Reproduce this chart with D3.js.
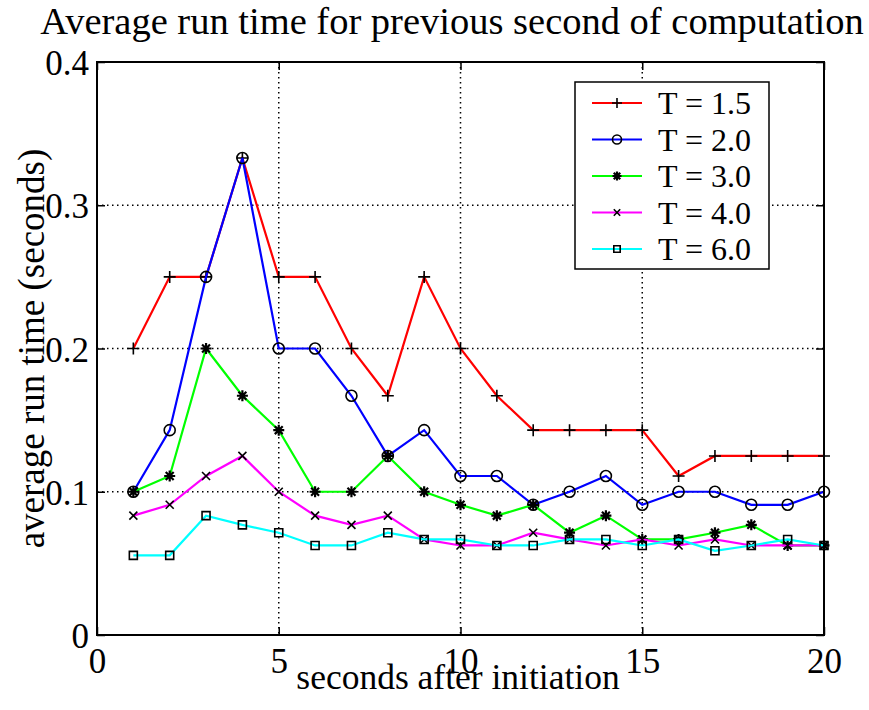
<!DOCTYPE html>
<html>
<head>
<meta charset="utf-8">
<script src="https://cdn.jsdelivr.net/npm/d3@7"></script>
<style>
  body { margin: 0; background: #fff; }
  text { font-family: "Liberation Serif", "DejaVu Serif", serif; fill: #000; }
</style>
</head>
<body>
<script>
// seconds after initiation
let seconds = [1, 2, 3, 4, 5, 6, 7, 8, 9, 10, 11, 12, 13, 14, 15, 16, 17, 18, 19, 20];

let t15 = [0.2, 0.25, 0.25, 0.333, 0.25, 0.25, 0.2, 0.167, 0.25, 0.2, 0.167, 0.143, 0.143, 0.143, 0.143, 0.111, 0.125, 0.125, 0.125, 0.125];
let t20 = [0.1, 0.143, 0.25, 0.333, 0.2, 0.2, 0.167, 0.125, 0.143, 0.111, 0.111, 0.0909, 0.1, 0.111, 0.0909, 0.1, 0.1, 0.0909, 0.0909, 0.1];
let t30 = [0.1, 0.111, 0.2, 0.167, 0.143, 0.1, 0.1, 0.125, 0.1, 0.0909, 0.0833, 0.0909, 0.0714, 0.0833, 0.0667, 0.0667, 0.0714, 0.0769, 0.0625, 0.0625];
let t40 = [0.0833, 0.0909, 0.111, 0.125, 0.1, 0.0833, 0.0769, 0.0833, 0.0667, 0.0625, 0.0625, 0.0714, 0.0667, 0.0625, 0.0667, 0.0625, 0.0667, 0.0625, 0.0625, 0.0625];
let t60 = [0.0556, 0.0556, 0.0833, 0.0769, 0.0714, 0.0625, 0.0625, 0.0714, 0.0667, 0.0667, 0.0625, 0.0625, 0.0667, 0.0667, 0.0625, 0.0667, 0.0588, 0.0625, 0.0667, 0.0625];

let seriesNames = ["T = 1.5", "T = 2.0", "T = 3.0", "T = 4.0", "T = 6.0"];
let xTicks = [0, 5, 10, 15, 20];
let yTicks = [0, 0.1, 0.2, 0.3, 0.4];

let series = [
    {name: seriesNames[0], values: t15, color: "#ff0000", marker: "plus"},
    {name: seriesNames[1], values: t20, color: "#0000ff", marker: "circle"},
    {name: seriesNames[2], values: t30, color: "#00ff00", marker: "star"},
    {name: seriesNames[3], values: t40, color: "#ff00ff", marker: "cross"},
    {name: seriesNames[4], values: t60, color: "#00ffff", marker: "square"}
];

let margin = {left: 97, top: 62, right: 45, bottom: 75};
let width = 869 - margin.left - margin.right;   // 727
let height = 710 - margin.top - margin.bottom;  // 573

let x = d3.scaleLinear().domain([0, 20]).range([0, width]);
let y = d3.scaleLinear().domain([0, 0.4]).range([height, 0]);

let svg = d3.select("body").append("svg").attr("width", 869).attr("height", 710);

svg.append("text")
    .attr("x", 452).attr("y", 34)
    .attr("text-anchor", "middle")
    .style("font-size", "38.5px")
    .text("Average run time for previous second of computation");

let chartGroup = svg.append("g").attr("transform", `translate(${margin.left},${margin.top})`);

// dotted grid
let grid = chartGroup.append("g").attr("class", "grid")
    .attr("stroke", "#000").attr("stroke-width", 1.5).attr("stroke-dasharray", "1.5,3.5");
grid.selectAll("line.gx").data(xTicks.slice(1, -1)).enter().append("line")
    .attr("x1", (d) => x(d)).attr("x2", (d) => x(d)).attr("y1", 0).attr("y2", height);
grid.selectAll("line.gy").data(yTicks.slice(1, -1)).enter().append("line")
    .attr("class", "gy")
    .attr("y1", (d) => y(d)).attr("y2", (d) => y(d)).attr("x1", 0).attr("x2", width);

// axes with inward ticks
let xAxis = d3.axisBottom(x).tickValues(xTicks).tickSize(-8).tickPadding(13).tickFormat(d3.format("d"));
let yAxis = d3.axisLeft(y).tickValues(yTicks).tickSize(-8).tickPadding(8).tickFormat((d) => d === 0 ? "0" : d3.format(".1f")(d));
let xTop = d3.axisTop(x).tickValues(xTicks).tickSize(-8).tickFormat("");
let yRight = d3.axisRight(y).tickValues(yTicks).tickSize(-8).tickFormat("");

let styleAxis = (g) => {
    g.select(".domain").remove();
    g.selectAll(".tick line").attr("stroke", "#000").attr("stroke-width", 1.5);
    g.selectAll(".tick text").style("font-size", "35px").attr("fill", "#000")
        .style("font-family", "\"Liberation Serif\", serif");
};

chartGroup.append("g").attr("class", "x axis").attr("transform", `translate(0,${height})`).call(xAxis).call(styleAxis);
chartGroup.append("g").attr("class", "y axis").call(yAxis).call(styleAxis);
chartGroup.append("g").call(xTop).call(styleAxis);
chartGroup.append("g").attr("transform", `translate(${width},0)`).call(yRight).call(styleAxis);

chartGroup.selectAll(".y.axis .tick text").attr("dy", "0.36em");

// markers
let markerPath = (type, s) => {
    let p = d3.path();
    if (type === "plus" || type === "star") {
        p.moveTo(-s, 0); p.lineTo(s, 0);
        p.moveTo(0, -s); p.lineTo(0, s);
    }
    if (type === "cross" || type === "star") {
        let k = type === "star" ? s * 0.72 : s * 0.8;
        p.moveTo(-k, -k); p.lineTo(k, k);
        p.moveTo(-k, k); p.lineTo(k, -k);
    }
    if (type === "circle") {
        p.moveTo(s, 0); p.arc(0, 0, s, 0, 2 * Math.PI);
    }
    if (type === "square") {
        let k = s * 0.8;
        p.rect(-k, -k, 2 * k, 2 * k);
    }
    return p.toString();
};
let markerSize = {plus: 6, circle: 5.5, star: 5.5, cross: 5, square: 5};

let line = d3.line()
    .x((d) => x(d[0]))
    .y((d) => y(d[1]));

series.forEach((s) => {
    let pts = seconds.map((sec, i) => [sec, s.values[i]]);
    chartGroup.append("path")
        .attr("d", line(pts))
        .attr("fill", "none").attr("stroke", s.color).attr("stroke-width", 2.2);
    chartGroup.selectAll(null).data(pts).enter().append("path")
        .attr("transform", (d) => `translate(${x(d[0])},${y(d[1])})`)
        .attr("d", markerPath(s.marker, markerSize[s.marker]))
        .attr("fill", "none").attr("stroke", "#000").attr("stroke-width", s.marker === "star" ? 2.2 : 1.6);
});

// frame
chartGroup.append("rect")
    .attr("x", 0).attr("y", 0).attr("width", width).attr("height", height)
    .attr("fill", "none").attr("stroke", "#000").attr("stroke-width", 2);

// legend
let legend = svg.append("g").attr("transform", "translate(575,82)");
legend.append("rect").attr("width", 194).attr("height", 187)
    .attr("fill", "#fff").attr("stroke", "#000").attr("stroke-width", 1.5);
let rows = legend.selectAll("g.row").data(series).enter().append("g")
    .attr("transform", (d, i) => `translate(0,${21 + i * 36.5})`);
rows.append("line").attr("x1", 17).attr("x2", 67)
    .attr("stroke", (d) => d.color).attr("stroke-width", 2.2);
rows.append("path").attr("transform", "translate(42,0)")
    .attr("d", (d) => markerPath(d.marker, markerSize[d.marker] - 1))
    .attr("fill", "none").attr("stroke", "#000").attr("stroke-width", (d) => d.marker === "star" ? 2.2 : 1.6);
rows.append("text").attr("x", 83).attr("y", 11)
    .style("font-size", "32px")
    .text((d) => d.name);

// axis labels
svg.append("text")
    .attr("x", 458).attr("y", 689)
    .attr("text-anchor", "middle")
    .style("font-size", "35.5px")
    .text("seconds after initiation");

svg.append("text")
    .attr("transform", `translate(44,${margin.top + height / 2}) rotate(-90)`)
    .attr("text-anchor", "middle")
    .style("font-size", "37px")
    .text("average run time (seconds)");
</script>
</body>
</html>
